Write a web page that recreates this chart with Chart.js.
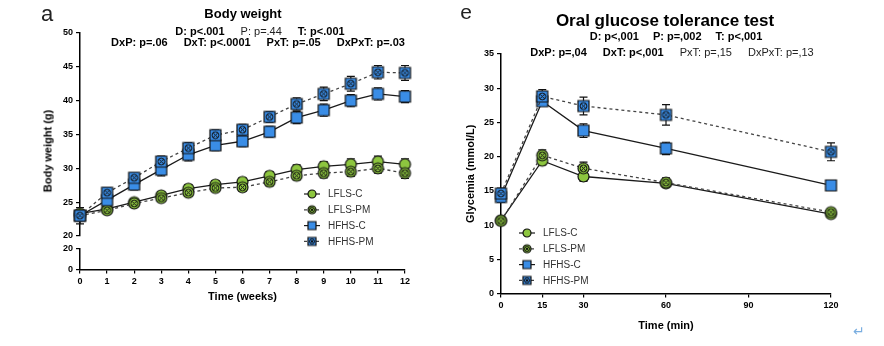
<!DOCTYPE html>
<html>
<head>
<meta charset="utf-8">
<script src="https://cdn.jsdelivr.net/npm/chart.js@4.4.1/dist/chart.umd.min.js"></script>
<style>
  body { margin: 0; background: #fff; font-family: "Liberation Sans", Arial, sans-serif; }
  #wrap { position: relative; width: 884px; height: 346px; overflow: hidden; }
  canvas { position: absolute; }
  .t { position: absolute; white-space: nowrap; color: #000; line-height: 1; transform: translate(-50%, -50%); }
  .row { display: flex; gap: 16px; font-size: 11px; font-weight: bold; }
  .row .n { font-weight: normal; color: #222; }
</style>
</head>
<body>
<div id="wrap">
  <canvas id="bwTop" width="440" height="250" style="left:0px;top:0px"></canvas>
  <canvas id="bwBottom" width="440" height="106" style="left:0px;top:240px"></canvas>
  <canvas id="ogtt" width="444" height="346" style="left:440px;top:0px"></canvas>

  <div class="t" style="left:47px;top:14px;font-size:22px;color:#222">a</div>
  <div class="t" style="left:243px;top:13px;font-size:13px;font-weight:bold">Body weight</div>
  <div class="t row" style="left:260px;top:31px"><span>D: p&lt;.001</span><span class="n">P: p=.44</span><span>T: p&lt;.001</span></div>
  <div class="t row" style="left:258px;top:42px"><span>DxP: p=.06</span><span>DxT: p&lt;.0001</span><span>PxT: p=.05</span><span>DxPxT: p=.03</span></div>
  <div class="t" style="left:48px;top:151px;font-size:11px;font-weight:bold;transform:translate(-50%,-50%) rotate(-90deg)">Body weight (g)</div>

  <div class="t" style="left:466px;top:11px;font-size:21px;color:#222">e</div>
  <div class="t" style="left:665px;top:20px;font-size:17px;font-weight:bold">Oral glucose tolerance test</div>
  <div class="t row" style="left:676px;top:36px;gap:14px"><span>D: p&lt;,001</span><span>P: p=,002</span><span>T: p&lt;,001</span></div>
  <div class="t row" style="left:672px;top:52px"><span>DxP: p=,04</span><span>DxT: p&lt;,001</span><span class="n">PxT: p=,15</span><span class="n">DxPxT: p=,13</span></div>

  <div class="t" style="left:859px;top:331px;font-size:14px;color:#7aaee0">↵</div>
</div>

<script>
// ---- body weight (weeks) ----
const weeks = [0, 1, 2, 3, 4, 5, 6, 7, 8, 9, 10, 11, 12];
const bwLflsC  = [23.3, 24.0, 25.0, 26.0, 27.0, 27.6, 28.0, 28.9, 29.8, 30.3, 30.6, 31.0, 30.6];
const bwLflsPm = [23.0, 23.8, 24.8, 25.6, 26.4, 27.1, 27.2, 28.0, 28.9, 29.3, 29.5, 30.0, 29.3];
const bwHfhsC  = [23.0, 25.3, 27.6, 29.8, 32.0, 33.4, 34.0, 35.4, 37.5, 38.6, 40.0, 41.0, 40.6];
const bwHfhsPm = [23.0, 26.4, 28.6, 31.0, 33.0, 34.9, 35.7, 37.6, 39.5, 41.0, 42.5, 44.2, 44.1];
const bwErrLflsC  = [0.5, 0.4, 0.4, 0.5, 0.6, 0.6, 0.6, 0.6, 0.7, 0.7, 0.8, 0.8, 0.8];
const bwErrLflsPm = [0.5, 0.4, 0.4, 0.5, 0.5, 0.5, 0.6, 0.6, 0.6, 0.7, 0.7, 0.7, 0.8];
const bwErrHfhsC  = [1.2, 0.9, 0.8, 0.9, 0.9, 0.8, 0.8, 0.8, 0.9, 0.9, 0.9, 0.9, 0.9];
const bwErrHfhsPm = [0.5, 0.7, 0.7, 0.8, 0.8, 0.8, 0.8, 0.8, 0.9, 1.0, 1.1, 1.0, 1.1];

// ---- OGTT (minutes) ----
const minutes = [0, 15, 30, 60, 120];
const minuteTicks = [0, 15, 30, 60, 90, 120];
const ogLflsC  = [10.7, 19.4, 17.1, 16.1, 11.6];
const ogLflsPm = [10.6, 20.2, 18.3, 16.2, 11.9];
const ogHfhsC  = [14.1, 28.1, 23.8, 21.2, 15.8];
const ogHfhsPm = [14.6, 28.8, 27.4, 26.1, 20.7];
const ogErrLflsC  = [0.3, 0.6, 0.7, 0.5, 0.3];
const ogErrLflsPm = [0.3, 0.8, 0.9, 0.7, 0.4];
const ogErrHfhsC  = [0.8, 0.6, 1.0, 0.9, 0.5];
const ogErrHfhsPm = [0.8, 1.0, 1.3, 1.5, 1.3];

const groupNames = ["LFLS-C", "LFLS-PM", "HFHS-C", "HFHS-PM"];

const GREEN = "#8dc63f";
const BLUE = "#3a8de6";

Chart.defaults.font.family = '"Liberation Sans", Arial, sans-serif';
Chart.defaults.color = "#000";

// marker images, GraphPad style (circle / square, with ⊗ for PM groups)
function makeMarker(shape, fill, cross, size) {
  const pad = 2;
  const c = document.createElement("canvas");
  c.width = c.height = size + pad * 2;
  const g = c.getContext("2d");
  const m = c.width / 2, r = size / 2;
  g.fillStyle = fill;
  g.strokeStyle = "#111";
  g.lineWidth = 1.2;
  g.beginPath();
  if (shape === "circle") g.arc(m, m, r, 0, Math.PI * 2);
  else g.rect(m - r, m - r, size, size);
  g.fill();
  g.stroke();
  if (cross) {
    const cr = r * 0.62, d = cr * 0.68;
    g.lineWidth = 1;
    g.beginPath();
    g.arc(m, m, cr, 0, Math.PI * 2);
    g.stroke();
    g.beginPath();
    g.moveTo(m - d, m - d); g.lineTo(m + d, m + d);
    g.moveTo(m + d, m - d); g.lineTo(m - d, m + d);
    g.stroke();
  }
  return c;
}

const markerSpec = [["circle", GREEN, false], ["circle", GREEN, true], ["square", BLUE, false], ["square", BLUE, true]];
const bigMarkers = markerSpec.map(s => makeMarker(s[0], s[1], s[2], 11));
const smallMarkers = markerSpec.map(s => makeMarker(s[0], s[1], s[2], 8));

function series(idx, xs, ys, errs) {
  const dashed = idx % 2 === 1;
  return {
    label: groupNames[idx],
    data: xs.map((x, i) => ({ x: x, y: ys[i] })),
    errors: errs,
    borderColor: dashed ? "#444" : "#1a1a1a",
    borderWidth: 1.3,
    borderDash: dashed ? [3, 3] : [],
    pointStyle: bigMarkers[idx],
    legendMarker: smallMarkers[idx],
    pointRadius: 5,
    tension: 0,
    clip: false,
    order: 4 - idx
  };
}

// SEM bars behind the markers
const errorBars = {
  id: "errorBars",
  beforeDatasetsDraw(chart) {
    const ctx = chart.ctx;
    ctx.save();
    ctx.strokeStyle = "#111";
    ctx.lineWidth = 1.2;
    chart.data.datasets.forEach((ds, i) => {
      if (!ds.errors) return;
      const meta = chart.getDatasetMeta(i);
      const ys = chart.scales[meta.yAxisID];
      meta.data.forEach((pt, j) => {
        const v = ds.data[j].y, e = ds.errors[j];
        const y1 = ys.getPixelForValue(v + e), y2 = ys.getPixelForValue(v - e);
        ctx.beginPath();
        ctx.moveTo(pt.x, y1); ctx.lineTo(pt.x, y2);
        ctx.moveTo(pt.x - 4, y1); ctx.lineTo(pt.x + 4, y1);
        ctx.moveTo(pt.x - 4, y2); ctx.lineTo(pt.x + 4, y2);
        ctx.stroke();
      });
    });
    ctx.restore();
  }
};

const boxLegend = {
  id: "boxLegend",
  afterDraw(chart, args, opts) {
    const ctx = chart.ctx;
    ctx.save();
    ctx.font = '10px "Liberation Sans", Arial, sans-serif';
    ctx.textBaseline = "middle";
    ctx.fillStyle = "#333";
    chart.data.datasets.forEach((ds, i) => {
      const x = opts.x, y = opts.y + i * opts.step;
      ctx.strokeStyle = ds.borderColor;
      ctx.lineWidth = 1.2;
      ctx.setLineDash(ds.borderDash);
      ctx.beginPath();
      ctx.moveTo(x - 8, y); ctx.lineTo(x + 8, y);
      ctx.stroke();
      ctx.setLineDash([]);
      const mk = ds.legendMarker;
      ctx.drawImage(mk, x - mk.width / 2, y - mk.height / 2);
      ctx.fillText(ds.label, x + 16, y + 0.5);
    });
    ctx.restore();
  }
};

const axisGrid = { display: true, drawOnChartArea: false, drawTicks: true, tickLength: 4, color: "#000", lineWidth: 1.2 };
const axisBorder = { display: true, color: "#000", width: 1.5 };
const tickFont = { size: 9, weight: "bold" };
const titleFont = { size: 11, weight: "bold" };

// body weight, upper segment (20-50)
new Chart(document.getElementById("bwTop"), {
  type: "line",
  data: {
    datasets: [
      series(0, weeks, bwLflsC, bwErrLflsC),
      series(1, weeks, bwLflsPm, bwErrLflsPm),
      series(2, weeks, bwHfhsC, bwErrHfhsC),
      series(3, weeks, bwHfhsPm, bwErrHfhsPm)
    ]
  },
  options: {
    responsive: false,
    animation: false,
    layout: { padding: { left: 0, top: 33, right: 35, bottom: 14 } },
    plugins: { legend: { display: false }, tooltip: { enabled: false }, boxLegend: { x: 312, y: 194, step: 15.8 } },
    scales: {
      x: { type: "linear", min: 0, max: 12, display: false },
      y: {
        min: 20, max: 50,
        ticks: { stepSize: 5, font: tickFont, padding: 3 },
        grid: axisGrid, border: axisBorder,
        afterFit(s) { s.width = 80; }
      }
    }
  },
  plugins: [errorBars, boxLegend]
});

// body weight, lower segment (0-20) with the time axis
new Chart(document.getElementById("bwBottom"), {
  type: "line",
  data: { datasets: [] },
  options: {
    responsive: false,
    animation: false,
    layout: { padding: { left: 0, top: 8, right: 35, bottom: 38.5 } },
    plugins: { legend: { display: false }, tooltip: { enabled: false } },
    scales: {
      x: {
        type: "linear", min: 0, max: 12,
        ticks: { stepSize: 1, font: tickFont, padding: 3, maxRotation: 0 },
        grid: axisGrid, border: axisBorder,
        title: { display: true, text: "Time (weeks)", font: titleFont, padding: { top: 2, bottom: 4 } },
        afterFit(s) { s.height = 38; }
      },
      y: {
        min: 0, max: 20,
        ticks: { stepSize: 20, font: tickFont, padding: 3 },
        grid: axisGrid, border: axisBorder,
        afterFit(s) { s.width = 80; }
      }
    }
  }
});

// oral glucose tolerance test
new Chart(document.getElementById("ogtt"), {
  type: "line",
  data: {
    datasets: [
      series(0, minutes, ogLflsC, ogErrLflsC),
      series(1, minutes, ogLflsPm, ogErrLflsPm),
      series(2, minutes, ogHfhsC, ogErrHfhsC),
      series(3, minutes, ogHfhsPm, ogErrHfhsPm)
    ]
  },
  options: {
    responsive: false,
    animation: false,
    layout: { padding: { left: 20, top: 54, right: 53, bottom: 9.5 } },
    plugins: { legend: { display: false }, tooltip: { enabled: false }, boxLegend: { x: 87, y: 233, step: 15.8 } },
    scales: {
      x: {
        type: "linear", min: 0, max: 120,
        afterBuildTicks(s) { s.ticks = minuteTicks.map(v => ({ value: v })); },
        ticks: { font: tickFont, padding: 3, maxRotation: 0 },
        grid: axisGrid, border: axisBorder,
        title: { display: true, text: "Time (min)", font: titleFont, padding: { top: 2, bottom: 4 } },
        afterFit(s) { s.height = 43; }
      },
      y: {
        min: 0, max: 35,
        ticks: { stepSize: 5, font: tickFont, padding: 3 },
        grid: axisGrid, border: axisBorder,
        title: { display: true, text: "Glycemia (mmol/L)", font: titleFont, padding: { top: 4, bottom: 4 } },
        afterFit(s) { s.width = 41; }
      }
    }
  },
  plugins: [errorBars, boxLegend]
});
</script>
</body>
</html>
